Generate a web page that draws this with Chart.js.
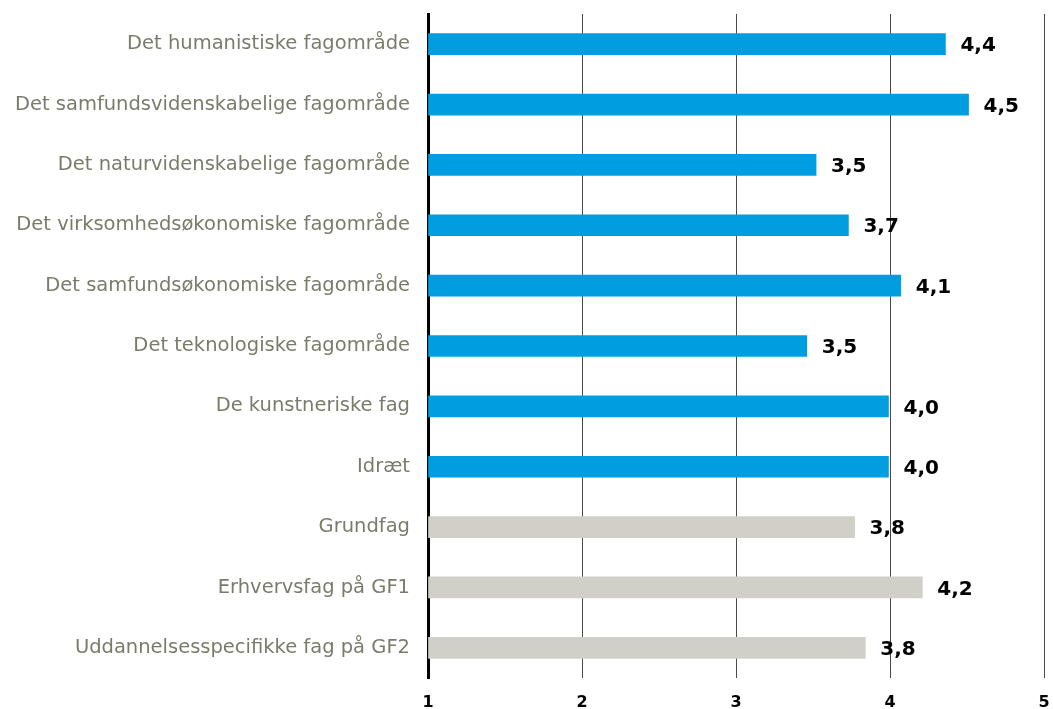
<!DOCTYPE html>
<html>
<head>
<meta charset="utf-8">
<script src="https://cdn.jsdelivr.net/npm/chart.js@4"></script>
<style>
  html, body { margin: 0; padding: 0; background: #fff; }
  #wrap { width: 1053px; height: 709px; position: relative; }
</style>
</head>
<body>
<div id="wrap"><canvas id="chart"></canvas></div>
<script>
// Fagområder / fag
const categories = [
  'Det humanistiske fagområde',
  'Det samfundsvidenskabelige fagområde',
  'Det naturvidenskabelige fagområde',
  'Det virksomhedsøkonomiske fagområde',
  'Det samfundsøkonomiske fagområde',
  'Det teknologiske fagområde',
  'De kunstneriske fag',
  'Idræt',
  'Grundfag',
  'Erhvervsfag på GF1',
  'Uddannelsesspecifikke fag på GF2'
];

// gennemsnit (1-5)
const values = [4.36, 4.51, 3.52, 3.73, 4.07, 3.46, 3.99, 3.99, 3.77, 4.21, 3.84];

// blue = fagområder, gray = erhvervsfag
const barColors = [
  '#009de0', '#009de0', '#009de0', '#009de0', '#009de0', '#009de0', '#009de0', '#009de0',
  '#d0d0c8', '#d0d0c8', '#d0d0c8'
];

const xTicks = [1, 2, 3, 4, 5];

// draws the value next to each bar
const valueLabels = {
  id: 'valueLabels',
  afterDatasetsDraw(chart) {
    const ctx = chart.ctx;
    const meta = chart.getDatasetMeta(0);
    ctx.save();
    ctx.font = 'bold 20px "DejaVu Sans"';
    ctx.fillStyle = '#000';
    ctx.textAlign = 'left';
    ctx.textBaseline = 'middle';
    meta.data.forEach((bar, i) => {
      const txt = values[i].toFixed(1).replace('.', ',');
      ctx.fillText(txt, bar.x + 15, bar.y + 2);
    });
    ctx.restore();
  }
};

new Chart(document.getElementById('chart'), {
  type: 'bar',
  data: {
    labels: categories,
    datasets: [{
      data: values,
      backgroundColor: barColors,
      borderWidth: 0,
      barThickness: 21,
      base: 1
    }]
  },
  options: {
    indexAxis: 'y',
    responsive: true,
    maintainAspectRatio: false,
    animation: false,
    layout: { padding: { top: 14, right: 9, bottom: 0, left: 0 } },
    plugins: {
      legend: { display: false },
      tooltip: { enabled: false }
    },
    scales: {
      x: {
        min: 1,
        max: 5,
        afterBuildTicks: (scale) => { scale.ticks = xTicks.map(v => ({ value: v })); },
        afterFit: (scale) => {
          scale.height = 31;
          scale.paddingLeft = 0;
          scale.paddingRight = 0;
        },
        grid: { color: '#4a4a4a', lineWidth: 1, drawTicks: false },
        border: { display: false },
        ticks: {
          color: '#000',
          padding: 15,
          font: { family: '"DejaVu Sans"', size: 16, weight: 'bold' }
        }
      },
      y: {
        afterFit: (scale) => {
          scale.width = 428;
          scale.paddingTop = 0;
          scale.paddingBottom = 0;
        },
        grid: { display: false, drawTicks: false },
        border: { color: '#000', width: 3 },
        ticks: {
          color: '#7b7b6b',
          padding: 18,
          font: { family: '"DejaVu Sans"', size: 19.5 }
        }
      }
    }
  },
  plugins: [valueLabels]
});
</script>
</body>
</html>
